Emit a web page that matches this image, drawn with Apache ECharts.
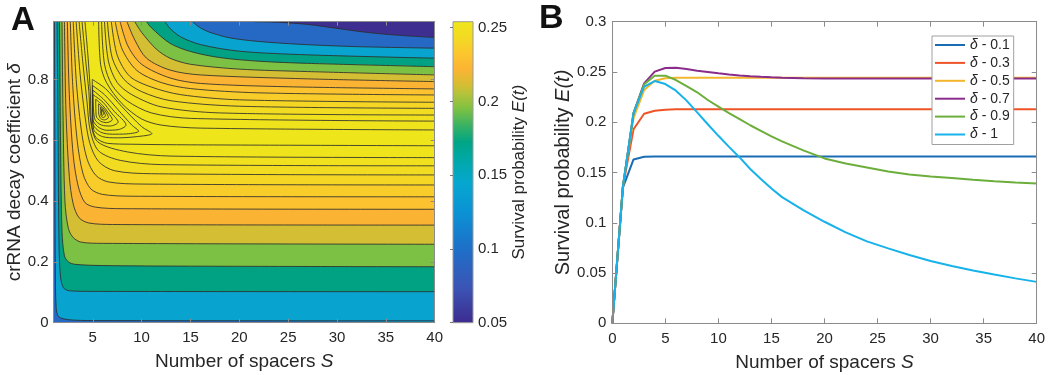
<!DOCTYPE html>
<html>
<head>
<meta charset="utf-8">
<script src="https://cdn.jsdelivr.net/npm/echarts@6/dist/echarts.min.js"></script>
<style>
  html, body { margin: 0; padding: 0; background: #fff; }
  #chart { width: 1050px; height: 375px; }
</style>
</head>
<body>
<div id="chart"></div>
<script>
// ---- panel B: survival probability vs number of spacers ----
const sValues = [0, 1, 2, 3, 4, 5, 6, 7, 8, 9, 10, 11, 12, 13, 14, 15, 16, 18, 20, 22, 24, 26, 28, 30, 32, 34, 36, 38, 40]
const e01 = [0, 0.135, 0.163, 0.1657, 0.166, 0.166, 0.166, 0.166, 0.166, 0.166, 0.166, 0.166, 0.166, 0.166, 0.166, 0.166, 0.166, 0.166, 0.166, 0.166, 0.166, 0.166, 0.166, 0.166, 0.166, 0.166, 0.166, 0.166, 0.166]
const e03 = [0, 0.136, 0.193, 0.2085, 0.2115, 0.2125, 0.2128, 0.2128, 0.2128, 0.2128, 0.2128, 0.2128, 0.2128, 0.2128, 0.2128, 0.2128, 0.2128, 0.2128, 0.2128, 0.2128, 0.2128, 0.2128, 0.2128, 0.2128, 0.2128, 0.2128, 0.2128, 0.2128, 0.2128]
const e05 = [0, 0.136, 0.204, 0.232, 0.2413, 0.2437, 0.2442, 0.2442, 0.2442, 0.2442, 0.2442, 0.2442, 0.2442, 0.2442, 0.2442, 0.2442, 0.2442, 0.2442, 0.2442, 0.2442, 0.2442, 0.2442, 0.2442, 0.2442, 0.2442, 0.2442, 0.2442, 0.2442, 0.2442]
const e07 = [0, 0.136, 0.209, 0.2387, 0.2503, 0.254, 0.2543, 0.253, 0.2513, 0.25, 0.2487, 0.2475, 0.2466, 0.2458, 0.2452, 0.2447, 0.2443, 0.2438, 0.2436, 0.2435, 0.2435, 0.2435, 0.2435, 0.2435, 0.2435, 0.2435, 0.2435, 0.2435, 0.2435]
const e09 = [0, 0.136, 0.209, 0.2377, 0.2463, 0.2463, 0.242, 0.236, 0.2298, 0.2221, 0.2155, 0.209, 0.203, 0.197, 0.1915, 0.186, 0.181, 0.172, 0.164, 0.159, 0.155, 0.151, 0.148, 0.146, 0.1445, 0.1428, 0.1413, 0.14, 0.139]
const e10 = [0, 0.136, 0.209, 0.2354, 0.241, 0.238, 0.2314, 0.2215, 0.2098, 0.198, 0.1865, 0.1755, 0.165, 0.1535, 0.1435, 0.134, 0.1255, 0.1125, 0.101, 0.0905, 0.0815, 0.0745, 0.068, 0.062, 0.057, 0.0525, 0.0485, 0.0447, 0.0412]
const lineNames = ['δ - 0.1', 'δ - 0.3', 'δ - 0.5', 'δ - 0.7', 'δ - 0.9', 'δ - 1']
const lineValues = [e01, e03, e05, e07, e09, e10]
const lineColors = ['#1a6db3', '#ee5427', '#f4b62c', '#8a2c8c', '#6cae3c', '#17b2e9']

// ---- panel A: contour lines of E(S, delta), read as [S, delta] points ----
// curves below the ridge (levels 2..13), each starting where it leaves the top edge
const lowerCurves = [
  [[1.08, 0.99], [1.12, 0.6], [1.16, 0.2], [1.25, 0.05], [1.5, 0.02], [2.5, 0.01], [5, 0.007], [40, 0.006]],
  [[1.35, 0.99], [1.45, 0.6], [1.55, 0.25], [1.7, 0.15], [2, 0.115], [2.6, 0.105], [5, 0.103], [40, 0.102]],
  [[1.6, 0.99], [1.7, 0.6], [1.85, 0.3], [2.1, 0.22], [2.5, 0.2], [3.2, 0.192], [6, 0.188], [15, 0.186], [40, 0.184]],
  [[1.85, 0.99], [1.95, 0.7], [2.15, 0.4], [2.5, 0.31], [3, 0.28], [3.8, 0.265], [6, 0.261], [40, 0.258]],
  [[2.1, 0.99], [2.25, 0.7], [2.6, 0.48], [3, 0.39], [3.6, 0.345], [4.6, 0.328], [7, 0.323], [40, 0.321]],
  [[2.4, 0.99], [2.6, 0.75], [3, 0.55], [3.5, 0.45], [4.2, 0.395], [5.3, 0.38], [8, 0.375], [40, 0.373]],
  [[2.7, 0.99], [2.95, 0.78], [3.4, 0.6], [4, 0.49], [4.8, 0.44], [6, 0.422], [9, 0.416], [40, 0.414]],
  [[3.0, 0.99], [3.3, 0.8], [3.8, 0.64], [4.4, 0.54], [5.3, 0.485], [6.6, 0.463], [10, 0.456], [40, 0.453]],
  [[3.3, 0.99], [3.7, 0.82], [4.2, 0.68], [4.7, 0.59], [5.6, 0.53], [7.2, 0.5], [11, 0.49], [40, 0.486]],
  [[3.6, 0.99], [4.0, 0.85], [4.4, 0.73], [4.75, 0.63], [5.6, 0.565], [7.8, 0.534], [12, 0.52], [40, 0.516]],
  [[3.9, 0.99], [4.25, 0.87], [4.6, 0.76], [4.8, 0.66], [5.5, 0.595], [8.5, 0.562], [13, 0.548], [40, 0.543]],
  [[4.2, 0.99], [4.5, 0.88], [4.75, 0.76], [4.85, 0.66], [5.3, 0.61], [6.5, 0.59], [9, 0.587], [15, 0.585], [40, 0.582]]
]
// curves above the ridge (levels 1..13)
const upperCurves = [
  [[21.5, 0.99], [24, 0.988], [27, 0.981], [30, 0.968], [33, 0.955], [36, 0.946], [40, 0.938]],
  [[15.2, 0.99], [16, 0.97], [17, 0.955], [19, 0.937], [22, 0.925], [26, 0.916], [32, 0.908], [40, 0.903]],
  [[12.4, 0.99], [12.9, 0.968], [14, 0.94], [16, 0.915], [20, 0.893], [27, 0.881], [40, 0.87]],
  [[10.5, 0.99], [11, 0.97], [12.9, 0.919], [15, 0.892], [18, 0.872], [22, 0.86], [27, 0.853], [40, 0.842]],
  [[9.3, 0.99], [10, 0.955], [11.5, 0.9], [12.9, 0.87], [15, 0.85], [20, 0.834], [27, 0.826], [40, 0.815]],
  [[8.5, 0.99], [9.3, 0.93], [10.5, 0.87], [12.9, 0.831], [16, 0.815], [27, 0.802], [40, 0.793]],
  [[7.8, 0.99], [8.6, 0.91], [10, 0.85], [12.9, 0.805], [16, 0.787], [25, 0.776], [40, 0.769]],
  [[7.3, 0.99], [8, 0.9], [9.5, 0.83], [12, 0.79], [15, 0.77], [22, 0.756], [40, 0.749]],
  [[6.9, 0.99], [7.5, 0.88], [8.8, 0.81], [11, 0.775], [14, 0.75], [20, 0.733], [40, 0.725]],
  [[6.5, 0.99], [7, 0.87], [8.2, 0.8], [10, 0.76], [13, 0.73], [20, 0.712], [40, 0.705]],
  [[6.2, 0.99], [6.6, 0.86], [7.5, 0.79], [9, 0.75], [12, 0.71], [18, 0.69], [40, 0.683]],
  [[5.9, 0.99], [6.2, 0.85], [7, 0.78], [8.5, 0.73], [11, 0.69], [15, 0.672], [40, 0.663]],
  [[5.6, 0.99], [5.8, 0.85], [6.4, 0.79], [8, 0.72], [10, 0.67], [12, 0.65], [16, 0.64], [40, 0.634]]
]
// closed contours round the maximum
const peakLoops = [
  [[4.95, 0.8], [6.3, 0.77], [8, 0.71], [10, 0.645], [11.05, 0.622], [9.5, 0.612], [7.5, 0.608], [6, 0.612], [5.1, 0.635], [4.95, 0.7], [4.95, 0.8]],
  [[4.98, 0.78], [6.2, 0.75], [7.6, 0.7], [9, 0.65], [9.7, 0.63], [8.5, 0.621], [7, 0.62], [5.8, 0.627], [5.02, 0.655], [4.98, 0.78]],
  [[5.0, 0.765], [6.1, 0.735], [7.2, 0.695], [8.4, 0.65], [7.6, 0.635], [6.4, 0.633], [5.5, 0.645], [5.0, 0.67], [5.0, 0.765]],
  [[5.02, 0.75], [6.05, 0.725], [6.9, 0.69], [7.6, 0.66], [6.8, 0.647], [5.9, 0.65], [5.2, 0.67], [5.02, 0.75]],
  [[5.3, 0.735], [6.0, 0.715], [6.6, 0.69], [7.0, 0.668], [6.4, 0.658], [5.8, 0.663], [5.35, 0.68], [5.3, 0.735]],
  [[5.6, 0.72], [6.0, 0.708], [6.4, 0.69], [6.6, 0.675], [6.2, 0.667], [5.8, 0.672], [5.6, 0.69], [5.6, 0.72]],
  [[5.8, 0.71], [6.0, 0.702], [6.2, 0.69], [6.3, 0.68], [6.05, 0.675], [5.85, 0.68], [5.8, 0.71]],
  [[5.9, 0.702], [6.0, 0.697], [6.1, 0.688], [6.0, 0.682], [5.9, 0.686], [5.9, 0.702]]
]
const sRange = [1, 40]
const deltaRange = [0, 0.99]
const colorbarRange = [0.05, 0.254]

// band fill colours, lowest band first (colormap sampled per band)
const bandColors = ['#3d2e90', '#2569c5', '#08a3cf', '#00a283', '#7cc143', '#d4be33', '#fbb334', '#fcc22f', '#f8cd2a', '#f5d625', '#f2dc21', '#f0e01e', '#efe31c', '#eee51b']
const colorbarStops = [
  [0, '#3d2b8f'], [0.12, '#3b55b5'], [0.245, '#1e6fc8'], [0.37, '#0a93d4'], [0.465, '#06a7cf'],
  [0.54, '#00a8a8'], [0.6, '#00a584'], [0.66, '#3fb360'], [0.71, '#7ec142'], [0.76, '#b5c23a'],
  [0.79, '#d6bd33'], [0.84, '#fbb434'], [0.89, '#fcc52e'], [0.94, '#f4d824'], [1, '#efe71a']
]

const FONT = '"Liberation Sans", Arial, sans-serif'
const TXT = '#262626'
const BOX = '#8c8c8c'
const SMOOTH = 0.3

const chart = echarts.init(document.getElementById('chart'))

const labelStyle = { color: TXT, fontSize: 15, fontFamily: FONT }
const nameStyle = (size) => ({
  color: TXT, fontSize: size, fontFamily: FONT,
  rich: { i: { fontStyle: 'italic', fontSize: size, fontFamily: FONT, color: TXT } }
})
const boxAxis = (gridIndex, position, min, max, ticks) => ({
  gridIndex, position, type: 'value', min, max, z: 5,
  axisLine: { show: true, onZero: false, lineStyle: { color: BOX, width: 1 } },
  axisTick: { show: true, inside: true, length: 4, customValues: ticks, lineStyle: { color: BOX } },
  axisLabel: { show: false },
  splitLine: { show: false }
})

const series = []
// lower side fills, highest level first so lower ones paint over
for (let i = lowerCurves.length - 1; i >= 0; i--) {
  series.push({
    type: 'line', xAxisIndex: 0, yAxisIndex: 0, symbol: 'none', smooth: SMOOTH, silent: true,
    data: [[sRange[0], deltaRange[1]]].concat(lowerCurves[i]),
    lineStyle: { width: 0, opacity: 0 },
    areaStyle: { color: bandColors[i + 1], opacity: 1, origin: 'start' }
  })
}
for (let i = upperCurves.length - 1; i >= 0; i--) {
  series.push({
    type: 'line', xAxisIndex: 0, yAxisIndex: 0, symbol: 'none', smooth: SMOOTH, silent: true,
    data: upperCurves[i],
    lineStyle: { width: 0, opacity: 0 },
    areaStyle: { color: bandColors[i], opacity: 1, origin: 'end' }
  })
}
lowerCurves.concat(upperCurves, peakLoops).forEach(c => {
  series.push({
    type: 'line', xAxisIndex: 0, yAxisIndex: 0, symbol: 'none', smooth: SMOOTH, silent: true,
    data: c, lineStyle: { color: '#2e2e2e', width: 0.85, opacity: 1 }
  })
})

// colour bar
series.push({
  type: 'custom', xAxisIndex: 2, yAxisIndex: 2, silent: true,
  data: [[0, colorbarRange[0], 1, colorbarRange[1]]],
  renderItem: (params, api) => {
    const p0 = api.coord([api.value(0), api.value(1)])
    const p1 = api.coord([api.value(2), api.value(3)])
    return {
      type: 'rect',
      shape: { x: p0[0], y: p1[1], width: p1[0] - p0[0], height: p0[1] - p1[1] },
      style: {
        fill: new echarts.graphic.LinearGradient(0, 1, 0, 0, colorbarStops.map(s => ({ offset: s[0], color: s[1] }))),
        stroke: '#9a9a9a', lineWidth: 1
      }
    }
  }
})

// panel B lines
lineNames.forEach((name, k) => {
  series.push({
    name, type: 'line', xAxisIndex: 3, yAxisIndex: 3, symbol: 'none', showSymbol: false,
    data: sValues.map((s, i) => [s, lineValues[k][i]]),
    lineStyle: { color: lineColors[k], width: 2 },
    itemStyle: { color: lineColors[k] },
    emphasis: { disabled: true }
  })
})

const sTicksA = [5, 10, 15, 20, 25, 30, 35, 40]
const dTicksA = [0, 0.2, 0.4, 0.6, 0.8]
const cbTicks = [0.05, 0.1, 0.15, 0.2, 0.25]

const option = {
  animation: false,
  backgroundColor: '#fff',
  textStyle: { fontFamily: FONT },
  grid: [
    { left: 53.7, top: 21.7, width: 381, height: 301, show: true, backgroundColor: bandColors[13], borderWidth: 0, outerBoundsMode: 'none' },
    { left: 453, top: 21.7, width: 20, height: 301, outerBoundsMode: 'none' },
    { left: 612.3, top: 21.7, width: 424.4, height: 301.6, outerBoundsMode: 'none' }
  ],
  xAxis: [
    Object.assign(boxAxis(0, 'bottom', sRange[0], sRange[1], sTicksA), {
      axisLabel: Object.assign({ show: true, margin: 8, customValues: sTicksA }, labelStyle),
      name: 'Number of spacers {i|S}', nameLocation: 'middle', nameGap: 30, nameTextStyle: nameStyle(19)
    }),
    boxAxis(0, 'top', sRange[0], sRange[1], sTicksA),
    { gridIndex: 1, type: 'value', min: 0, max: 1, show: false },
    Object.assign(boxAxis(2, 'bottom', 0, 40), {
      interval: 5, axisTick: { show: true, inside: true, length: 5, lineStyle: { color: BOX } },
      axisLabel: Object.assign({ show: true, margin: 8 }, labelStyle),
      name: 'Number of spacers {i|S}', nameLocation: 'middle', nameGap: 30, nameTextStyle: nameStyle(19)
    }),
    Object.assign(boxAxis(2, 'top', 0, 40), { interval: 5, axisTick: { show: true, inside: true, length: 5, lineStyle: { color: BOX } } })
  ],
  yAxis: [
    Object.assign(boxAxis(0, 'left', deltaRange[0], deltaRange[1], dTicksA), {
      axisLabel: Object.assign({ show: true, margin: 5, customValues: dTicksA }, labelStyle),
      name: 'crRNA decay coefficient {i|δ}', nameLocation: 'middle', nameGap: 29, nameRotate: 90, nameTextStyle: nameStyle(19)
    }),
    boxAxis(0, 'right', deltaRange[0], deltaRange[1], dTicksA),
    Object.assign(boxAxis(1, 'right', colorbarRange[0], colorbarRange[1], cbTicks), {
      axisLine: { show: false },
      axisTick: { show: true, inside: true, length: 3, customValues: cbTicks, lineStyle: { color: '#777' } },
      axisLabel: Object.assign({ show: true, margin: 5, customValues: cbTicks }, labelStyle),
      name: 'Survival probability {i|E(t)}', nameLocation: 'middle', nameGap: 38, nameRotate: 90, nameTextStyle: nameStyle(17)
    }),
    Object.assign(boxAxis(2, 'left', 0, 0.3), {
      interval: 0.05, axisTick: { show: true, inside: true, length: 5, lineStyle: { color: BOX } },
      axisLabel: Object.assign({ show: true, margin: 6 }, labelStyle),
      name: 'Survival probability {i|E(t)}', nameLocation: 'middle', nameGap: 38, nameRotate: 90, nameTextStyle: nameStyle(20)
    }),
    Object.assign(boxAxis(2, 'right', 0, 0.3), { interval: 0.05, axisTick: { show: true, inside: true, length: 5, lineStyle: { color: BOX } } })
  ],
  legend: {
    data: lineNames, orient: 'vertical', left: 932, top: 36,
    icon: 'rect', itemWidth: 30, itemHeight: 2, itemGap: 1.9, padding: [1, 4, 2, 3],
    borderColor: '#a0a0a0', borderWidth: 1, backgroundColor: '#fff',
    formatter: name => '{i|δ}' + name.slice(1),
    textStyle: { color: TXT, fontSize: 14, lineHeight: 16, fontFamily: FONT, rich: { i: { fontStyle: 'italic', fontSize: 14, lineHeight: 16, fontFamily: FONT, color: TXT } } }
  },
  graphic: [
    { type: 'text', left: 11, top: 4, style: { text: 'A', font: 'bold 33px "Liberation Sans", Arial, sans-serif', fill: '#111' } },
    { type: 'text', left: 539, top: 2, style: { text: 'B', font: 'bold 34px "Liberation Sans", Arial, sans-serif', fill: '#111' } }
  ],
  series
}

chart.setOption(option)
</script>
</body>
</html>
